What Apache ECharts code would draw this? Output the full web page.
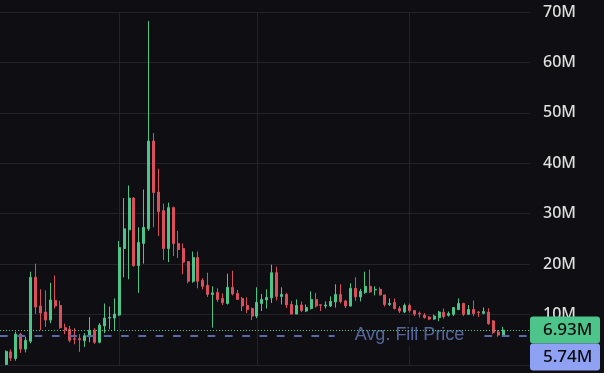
<!DOCTYPE html>
<html>
<head>
<meta charset="utf-8">
<script src="https://cdn.jsdelivr.net/npm/echarts@6/dist/echarts.min.js"></script>
<style>
html,body{margin:0;padding:0;background:#0f0f13;overflow:hidden;}
#c{width:604px;height:373px;}
</style>
</head>
<body>
<div id="c"></div>
<script>
// ---- data (values in millions) ----
const categories = ['1','2','3','4','5','6','7','8','9','10','11','12','13','14','15','16','17','18','19','20',
'21','22','23','24','25','26','27','28','29','30','31','32','33','34','35','36','37','38','39','40',
'41','42','43','44','45','46','47','48','49','50','51','52','53','54','55','56','57','58','59','60',
'61','62','63','64','65','66','67','68','69','70','71','72','73','74','75','76','77','78','79','80',
'81','82','83','84','85','86','87','88','89','90','91','92','93','94','95','96','97','98','99','100',
'101','102'];
const opens = [0.1,2.6,1.3,6.1,3.15,4.7,17.4,11.7,10.5,8.9,12.8,11.8,7.4,7.1,5.2,5.2,4.8,5.6,6.9,4.5,
7.75,9.3,9.3,9.9,23.1,26.8,33.1,19.7,24.1,27.0,44.4,34.3,30.6,23.1,31.2,24.1,23.1,20.5,16.6,21.3,
16.8,15.8,14.0,14.4,13.2,12.2,15.4,14.2,13.2,11.8,11.2,9.7,12.2,12.9,13.3,18.3,13.6,14.0,12.0,10.1,
11.9,10.7,11.2,13.0,11.95,11.7,11.7,12.5,14.0,12.7,11.7,15.2,13.5,14.4,15.6,14.9,15.0,13.9,12.0,12.4,
11.2,10.5,11.8,10.8,10.25,9.9,9.5,9.1,9.4,10.45,9.85,10.05,11.0,12.2,10.05,11.0,10.5,10.25,10.5,8.75,
6.55,5.8];
const closes = [2.7,1.4,6.1,3.15,4.9,17.4,11.5,10.3,8.9,12.9,11.7,7.4,6.95,4.9,5.1,5.0,5.8,6.9,4.5,7.9,
9.3,9.45,10.1,23.3,27.0,33.1,19.7,24.3,27.3,44.4,34.2,30.4,23.1,31.2,24.1,22.9,20.4,16.6,21.3,16.6,
15.6,14.0,14.3,13.0,12.35,15.4,14.1,13.0,11.7,11.0,9.7,12.4,13.0,13.4,18.3,13.6,14.0,11.9,10.1,11.8,
10.8,11.4,13.0,11.7,11.85,11.9,12.6,14.0,12.6,11.7,15.2,13.5,14.6,15.6,14.5,15.0,13.9,12.0,12.2,11.2,
10.7,11.8,10.8,10.1,10.1,9.4,9.1,9.7,10.5,9.6,10.2,11.4,12.2,10.05,11.0,10.2,10.4,10.6,8.2,6.45,
5.95,6.93];
const lows = [0.0,0.8,0.85,2.4,2.5,4.3,10.1,6.9,7.55,8.3,11.2,7.2,6.1,4.5,4.1,2.6,3.6,4.5,4.2,4.3,
6.3,7.1,6.9,9.7,17.4,17.0,19.5,14.3,20.1,26.6,27.3,25.6,20.8,20.4,21.6,21.2,18.0,16.2,16.3,15.2,
15.0,13.5,7.4,12.5,11.9,12.0,13.8,12.9,10.7,10.3,8.9,9.3,10.7,11.2,12.3,12.8,12.0,11.3,10.1,10.1,
10.5,10.5,11.0,11.4,10.7,11.2,11.5,11.4,12.2,11.3,11.6,12.7,12.6,14.1,14.3,13.8,13.8,11.6,11.7,11.0,
10.3,10.3,10.4,9.7,9.4,9.2,8.9,9.0,8.7,9.2,9.6,9.7,10.85,9.7,9.9,9.7,9.5,10.05,7.95,6.1,
5.6,5.7];
const highs = [2.9,3.1,6.6,6.35,5.6,18.5,20.1,15.0,14.8,16.3,17.75,12.75,8.2,7.75,7.3,6.1,6.3,9.5,7.3,8.3,
12.2,11.6,13.2,24.6,33.1,35.6,33.3,27.3,34.8,68.2,46.0,38.9,32.0,32.2,31.4,26.6,24.1,20.5,22.5,22.5,
17.2,18.3,15.6,15.2,14.2,18.1,18.7,14.9,13.5,13.4,11.4,15.4,14.1,15.0,19.9,19.5,15.4,14.3,12.7,13.0,
12.6,12.0,14.6,14.3,12.0,12.6,13.6,16.0,16.0,12.9,16.2,17.4,15.1,18.5,18.9,15.6,15.4,13.9,13.2,13.2,
11.7,12.2,12.2,10.8,10.6,10.3,9.7,10.0,10.7,11.2,10.6,11.5,13.2,12.35,11.9,12.8,10.7,11.4,11.25,8.9,
6.9,7.55];
const yTicks = [0,10,20,30,40,50,60,70];
const lastPrice = 6.93;
const avgFillPrice = 5.74;
const lastPriceLabel = '6.93M';
const avgPriceLabel = '5.74M';
const avgText = 'Avg. Fill Price';
const gridMarkIndices = [23, 51, 82];

// ---- styles ----
const UP = '#4cc48a';
const DOWN = '#d9505c';
const BLUE = '#8fa1f3';
const GRID = '#232329';
const BG = '#0f0f13';

const chart = echarts.init(document.getElementById('c'), null, {renderer: 'canvas'});
const candleData = categories.map((c, i) => [i, opens[i], closes[i], lows[i], highs[i]]);

chart.setOption({
  backgroundColor: BG,
  animation: false,
  grid: {left: 0, right: 74, top: 12, bottom: 7},
  xAxis: {
    type: 'value', min: -1.22, max: 106.48,
    axisLine: {show: false}, axisTick: {show: false}, axisLabel: {show: false}, splitLine: {show: false}
  },
  yAxis: {
    type: 'value', position: 'right', min: yTicks[0], max: yTicks[yTicks.length - 1], interval: 10,
    axisLine: {show: false}, axisTick: {show: false},
    splitLine: {show: true, lineStyle: {color: GRID, width: 1}},
    axisLabel: {
      color: '#dedede', fontSize: 16, fontWeight: 500, fontFamily: 'Noto Sans', margin: 13, align: 'left',
      formatter: v => v === 0 ? '0' : v + 'M'
    }
  },
  series: [
    {
      type: 'candlestick',
      data: candleData,
      encode: {x: 0, y: [1, 2, 3, 4]},
      barWidth: 2.5,
      z: 2,
      itemStyle: {color: UP, color0: DOWN, borderColor: UP, borderColor0: DOWN, borderWidth: 1},
      markLine: {
        silent: true, symbol: 'none', z: 1, animation: false,
        label: {show: false},
        lineStyle: {color: GRID, type: 'solid', width: 1},
        data: gridMarkIndices.map(i => ({xAxis: i}))
      }
    },
    {
      type: 'line', data: [], z: 3,
      markLine: {
        silent: true, symbol: 'none', z: 3, animation: false,
        label: {show: false},
        data: [
          {yAxis: avgFillPrice, lineStyle: {color: '#5868aa', type: [7.7, 9.6], width: 2}}
        ]
      }
    },
    {
      type: 'line', data: [], z: 6,
      markLine: {
        silent: true, symbol: 'none', z: 6, animation: false,
        label: {show: false},
        data: [
          {yAxis: lastPrice, lineStyle: {color: UP, type: [1, 2], width: 1}}
        ]
      }
    }
  ]
});

const yLast = chart.convertToPixel({yAxisIndex: 0}, lastPrice);
const yAvg = chart.convertToPixel({yAxisIndex: 0}, avgFillPrice);
const xRight = chart.convertToPixel({xAxisIndex: 0}, 106.48);
const xMid = chart.convertToPixel({xAxisIndex: 0}, gridMarkIndices[2]);
const boxH = 27;

chart.setOption({
  graphic: [
    {
      type: 'text', z: 4, x: xMid - 4, y: yAvg - 1,
      style: {
        text: avgText, fill: '#56669c', font: '18px "Liberation Sans", Arial, sans-serif',
        align: 'center', verticalAlign: 'middle',
        backgroundColor: BG, padding: [2, 12, 2, 20]
      }
    },
    {
      type: 'rect', z: 100, shape: {x: xRight, y: yLast - boxH / 2, width: 70, height: boxH, r: 3},
      style: {fill: UP}
    },
    {
      type: 'text', z: 101, x: xRight + 13, y: yLast + 0.5,
      style: {text: lastPriceLabel, fill: '#0b0b0d', font: '500 17px "Noto Sans"', verticalAlign: 'middle'}
    },
    {
      type: 'rect', z: 100, shape: {x: xRight, y: yLast + boxH / 2, width: 70, height: boxH, r: 3},
      style: {fill: BLUE}
    },
    {
      type: 'text', z: 101, x: xRight + 13, y: yLast + boxH + 0.5,
      style: {text: avgPriceLabel, fill: '#0b0b0d', font: '500 17px "Noto Sans"', verticalAlign: 'middle'}
    }
  ]
});
</script>
</body>
</html>
